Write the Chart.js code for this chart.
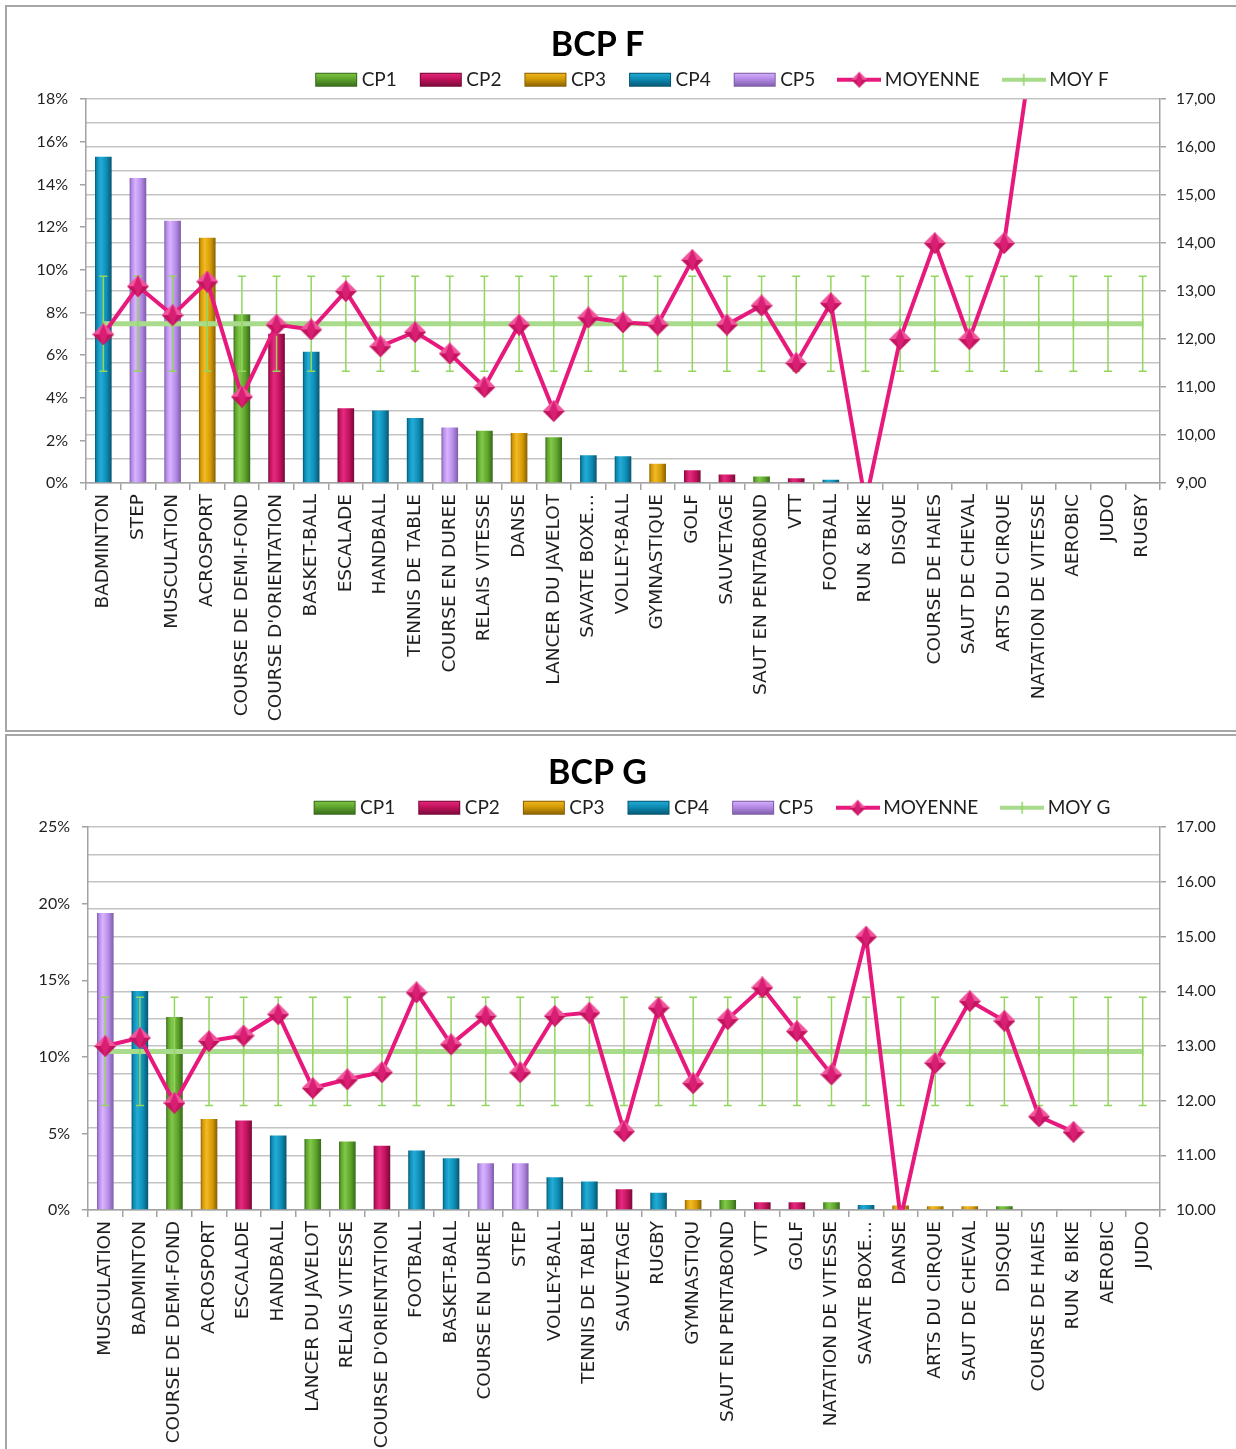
<!DOCTYPE html>
<html>
<head>
<meta charset="utf-8">
<title>BCP F / BCP G</title>
<script src="https://cdn.jsdelivr.net/npm/chart.js@4.4.1/dist/chart.umd.min.js"></script>
<style>
  html, body { margin: 0; padding: 0; background: #fff; overflow: hidden; }
  .panel { position: absolute; left: 5px; width: 1240px; border: 2px solid #a6a6a6; background: #fff; }
  #panelF { top: 5px; height: 723px; }
  #panelG { top: 734px; height: 720px; }
  .box { position: absolute; left: 0; top: 0; width: 1229px; }
  #panelF .box { height: 723px; }
  #panelG .box { height: 713px; }
</style>
</head>
<body>
<div class="panel" id="panelF"><div class="box"><canvas id="bcpF"></canvas></div></div>
<div class="panel" id="panelG"><div class="box"><canvas id="bcpG"></canvas></div></div>
<script>
//  data - BCP F
const catsF = ["BADMINTON", "STEP", "MUSCULATION", "ACROSPORT", "COURSE DE DEMI-FOND", "COURSE D'ORIENTATION",
    "BASKET-BALL", "ESCALADE", "HANDBALL", "TENNIS DE TABLE", "COURSE EN DUREE", "RELAIS VITESSE", "DANSE",
    "LANCER DU JAVELOT", "SAVATE BOXE…", "VOLLEY-BALL", "GYMNASTIQUE", "GOLF", "SAUVETAGE", "SAUT EN PENTABOND",
    "VTT", "FOOTBALL", "RUN & BIKE", "DISQUE", "COURSE DE HAIES", "SAUT DE CHEVAL", "ARTS DU CIRQUE",
    "NATATION DE VITESSE", "AEROBIC", "JUDO", "RUGBY"];
const cpF = [4, 5, 5, 3, 1, 2, 4, 2, 4, 4, 5, 1, 3, 1, 4, 4, 3, 2, 2, 1, 2, 4, 1, 1, 1, 3, 3, 1, 5, 4, 4];
const pctF = [15.3, 14.3, 12.3, 11.5, 7.9, 7.0, 6.15, 3.5, 3.4, 3.05, 2.6, 2.45, 2.35, 2.15, 1.3, 1.25,
    0.9, 0.6, 0.4, 0.3, 0.22, 0.15, 0, 0, 0, 0, 0, 0, 0, 0, 0];
const moyenneF = [12.1, 13.1, 12.5, 13.2, 10.8, 12.3, 12.2, 13.0, 11.85, 12.15, 11.7, 11.0, 12.3, 10.5, 12.45,
    12.35, 12.3, 13.65, 12.3, 12.7, 11.5, 12.75, 8.6, 12.0, 14.0, 12.0, 14.0, 19.0, null, null, null];
const MOY_F = 12.32;
const ERR_F = 0.99;

//  data - BCP G
const catsG = ["MUSCULATION", "BADMINTON", "COURSE DE DEMI-FOND", "ACROSPORT", "ESCALADE", "HANDBALL",
    "LANCER DU JAVELOT", "RELAIS VITESSE", "COURSE D'ORIENTATION", "FOOTBALL", "BASKET-BALL", "COURSE EN DUREE",
    "STEP", "VOLLEY-BALL", "TENNIS DE TABLE", "SAUVETAGE", "RUGBY", "GYMNASTIQU", "SAUT EN PENTABOND", "VTT",
    "GOLF", "NATATION DE VITESSE", "SAVATE BOXE…", "DANSE", "ARTS DU CIRQUE", "SAUT DE CHEVAL", "DISQUE",
    "COURSE DE HAIES", "RUN & BIKE", "AEROBIC", "JUDO"];
const cpG = [5, 4, 1, 3, 2, 4, 1, 1, 2, 4, 4, 5, 5, 4, 4, 2, 4, 3, 1, 2, 2, 1, 4, 3, 3, 3, 1, 1, 1, 5, 4];
const pctG = [19.4, 14.3, 12.6, 5.95, 5.85, 4.87, 4.63, 4.47, 4.19, 3.88, 3.38, 3.06, 3.06, 2.14, 1.86, 1.35,
    1.13, 0.65, 0.65, 0.5, 0.5, 0.5, 0.33, 0.3, 0.25, 0.25, 0.25, 0, 0, 0, 0];
const moyenneG = [13.0, 13.15, 11.96, 13.09, 13.19, 13.58, 12.23, 12.39, 12.52, 13.98, 13.03, 13.55, 12.52,
    13.55, 13.61, 11.44, 13.7, 12.32, 13.49, 14.07, 13.27, 12.48, 15.0, 9.85, 12.69, 13.82, 13.46, 11.71, 11.43,
    null, null];
const MOY_G = 12.9;
const ERR_G = 0.99;

const cpNames = ["CP1", "CP2", "CP3", "CP4", "CP5"];

//  colours
const cpColors = [
    { base: "#5ea42c", light: "#82c84a", dark: "#36681a" },
    { base: "#c2125c", light: "#e42a80", dark: "#760a38" },
    { base: "#d49a06", light: "#f3ba26", dark: "#875f02" },
    { base: "#0d8cb4", light: "#23acd6", dark: "#075570" },
    { base: "#b58ae6", light: "#d8b4ff", dark: "#7c5ca6" },
];
const PINK = "#e8197c";
const LIGHT_GREEN = "#a8dc8c";
const ERR_GREEN = "#92d65e";
const GRID = "#c3c3c3";
const AXIS = "#a2a2a2";

Chart.defaults.font.family = "Lato";
Chart.defaults.color = "#1f1f1f";

// 3d-ish bar fill, gradient across each bar
function barFill(c) {
    return function (ctx) {
        const chart = ctx.chart;
        const x = chart.scales.x;
        if (ctx.type !== "data" || !x || !x.ticks || !x.ticks.length) return c.base;
        const cx = x.getPixelForValue(ctx.dataIndex);
        const w = (x.width / x.ticks.length) * 0.48;
        const g = chart.ctx.createLinearGradient(cx - w / 2, 0, cx + w / 2, 0);
        g.addColorStop(0, c.dark);
        g.addColorStop(0.12, c.base);
        g.addColorStop(0.35, c.light);
        g.addColorStop(0.7, c.base);
        g.addColorStop(1, c.dark);
        return g;
    };
}

// shaded diamond marker for MOYENNE
function diamond(size) {
    const cv = document.createElement("canvas");
    cv.width = size;
    cv.height = size;
    const g = cv.getContext("2d");
    const h = size / 2;
    g.fillStyle = "#f0559c";
    g.beginPath(); g.moveTo(h, 0); g.lineTo(size, h); g.lineTo(0, h); g.closePath(); g.fill();
    g.fillStyle = "#c4145f";
    g.beginPath(); g.moveTo(0, h); g.lineTo(size, h); g.lineTo(h, size); g.closePath(); g.fill();
    g.fillStyle = "#d91f74";
    g.beginPath(); g.moveTo(h, 0); g.lineTo(h + size * 0.2, h); g.lineTo(h, size); g.lineTo(h - size * 0.2, h); g.closePath(); g.fill();
    return cv;
}
const diamondBig = diamond(22);
const diamondSmall = diamond(16);

// legend swatches
function swatch(kind, c) {
    const cv = document.createElement("canvas");
    cv.width = 44;
    cv.height = 18;
    const g = cv.getContext("2d");
    if (kind === "bar") {
        const gr = g.createLinearGradient(0, 2, 0, 16);
        gr.addColorStop(0, c.light);
        gr.addColorStop(0.45, c.base);
        gr.addColorStop(1, c.dark);
        g.fillStyle = gr;
        g.fillRect(1, 2, 42, 14);
        g.strokeStyle = c.dark;
        g.lineWidth = 1;
        g.strokeRect(1.5, 2.5, 41, 13);
    } else if (kind === "marker") {
        g.strokeStyle = PINK;
        g.lineWidth = 4;
        g.beginPath(); g.moveTo(0, 9); g.lineTo(44, 9); g.stroke();
        g.drawImage(diamondSmall, 14, 1);
    } else {
        g.strokeStyle = LIGHT_GREEN;
        g.lineWidth = 4;
        g.beginPath(); g.moveTo(0, 9); g.lineTo(44, 9); g.stroke();
        g.strokeStyle = ERR_GREEN;
        g.lineWidth = 1.5;
        g.beginPath(); g.moveTo(22, 3); g.lineTo(22, 15); g.stroke();
    }
    return cv;
}

// error bars around the average line
const errorBars = {
    id: "errorBars",
    beforeDatasetDraw(chart, args) {
        const ds = chart.data.datasets[args.index];
        if (ds.errorBar === undefined) return;
        const x = chart.scales.x;
        const y = chart.scales[ds.yAxisID];
        const ctx = chart.ctx;
        ctx.save();
        ctx.strokeStyle = ERR_GREEN;
        ctx.lineWidth = 1.5;
        ds.data.forEach((v, i) => {
            const px = x.getPixelForValue(i);
            const top = y.getPixelForValue(v + ds.errorBar);
            const bot = y.getPixelForValue(v - ds.errorBar);
            ctx.beginPath();
            ctx.moveTo(px, top); ctx.lineTo(px, bot);
            ctx.moveTo(px - 4, top); ctx.lineTo(px + 4, top);
            ctx.moveTo(px - 4, bot); ctx.lineTo(px + 4, bot);
            ctx.stroke();
        });
        ctx.restore();
    },
};

// nudge title / legend to where the reference has them
const boxShift = {
    id: "boxShift",
    afterLayout(chart, args, opts) {
        if (opts.legend) {
            chart.legend.left += opts.legend[0];
            chart.legend.right += opts.legend[0];
            chart.legend.top += opts.legend[1];
        }
        if (opts.title) {
            chart.titleBlock.left += opts.title[0];
            chart.titleBlock.right += opts.title[0];
        }
    },
};

function makeChart(id, o) {
    const datasets = [];
    cpNames.forEach((name, k) => {
        datasets.push({
            type: "bar",
            label: name,
            data: o.pct.map((v, i) => (o.cp[i] === k + 1 ? v : null)),
            backgroundColor: barFill(cpColors[k]),
            borderWidth: 0,
            grouped: false,
            categoryPercentage: 1,
            barPercentage: 0.48,
            yAxisID: "y",
            order: 2,
        });
    });
    datasets.push({
        type: "line",
        label: "MOYENNE",
        data: o.moyenne,
        borderColor: PINK,
        borderWidth: 4,
        pointStyle: diamondBig,
        pointRadius: 11,
        pointHoverRadius: 11,
        tension: 0,
        spanGaps: false,
        clip: 0,
        yAxisID: "y1",
        order: 0,
    });
    datasets.push({
        type: "line",
        label: o.moyLabel,
        data: o.cats.map(() => o.moy),
        errorBar: o.err,
        borderColor: LIGHT_GREEN,
        borderWidth: 5,
        pointStyle: "line",
        pointRotation: 90,
        pointRadius: 5,
        pointBorderColor: ERR_GREEN,
        pointBorderWidth: 1.5,
        yAxisID: "y1",
        order: 1,
    });

    return new Chart(document.getElementById(id), {
        data: { labels: o.cats, datasets: datasets },
        plugins: [errorBars, boxShift],
        options: {
            responsive: true,
            maintainAspectRatio: false,
            animation: false,
            layout: { padding: 0 },
            plugins: {
                title: {
                    display: true,
                    text: o.title,
                    color: "#000",
                    font: { size: 34, weight: "bold", lineHeight: 0.8 },
                    padding: { top: o.titleTop, bottom: 0 },
                },
                legend: {
                    display: true,
                    position: "top",
                    maxHeight: 41,
                    labels: {
                        usePointStyle: true,
                        pointStyleWidth: 32,
                        padding: 28,
                        color: "#1f1f1f",
                        font: { size: 19 },
                        generateLabels(chart) {
                            return chart.data.datasets.map((ds, i) => ({
                                text: ds.label,
                                datasetIndex: i,
                                hidden: false,
                                lineWidth: 0,
                                fontColor: "#1f1f1f",
                                pointStyle: i < 5 ? swatch("bar", cpColors[i]) : swatch(i === 5 ? "marker" : "moy"),
                            }));
                        },
                    },
                },
                boxShift: { legend: [93, -16], title: [-24, 0] },
                tooltip: { enabled: false },
            },
            scales: {
                x: {
                    type: "category",
                    offset: true,
                    grid: { drawOnChartArea: false, offset: true, tickLength: 7, color: AXIS, lineWidth: 1.5 },
                    border: { color: AXIS, width: 1.5 },
                    ticks: {
                        autoSkip: false,
                        minRotation: 90,
                        maxRotation: 90,
                        padding: 4,
                        color: "#1f1f1f",
                        font: { family: "DejaVu Sans", size: 18.5 },
                    },
                    afterFit(scale) { scale.height = o.xHeight; },
                },
                y: {
                    position: "left",
                    min: 0,
                    max: o.pctMax,
                    grid: { drawOnChartArea: false, tickLength: 6, color: AXIS, lineWidth: 1.5 },
                    border: { color: AXIS, width: 1.5 },
                    ticks: {
                        stepSize: o.pctStep,
                        padding: 12,
                        font: { size: 16 },
                        callback: (v) => (v % o.pctLabelEvery === 0 ? v + "%" : ""),
                    },
                    afterFit(scale) { scale.width = o.leftWidth; },
                },
                y1: {
                    position: "right",
                    min: o.moyMin,
                    max: 17,
                    grid: {
                        drawOnChartArea: true,
                        color: GRID,
                        lineWidth: 1.5,
                        tickLength: 6,
                        tickColor: (c) => (Number.isInteger(c.tick.value) ? AXIS : "rgba(0,0,0,0)"),
                    },
                    border: { color: AXIS, width: 1.5 },
                    ticks: {
                        stepSize: 0.5,
                        padding: 10,
                        font: { size: 15.5 },
                        callback: (v) => (Number.isInteger(v) ? v.toFixed(2).replace(".", o.decimal) : ""),
                    },
                    afterFit(scale) { scale.width = 76; },
                },
            },
        },
    });
}

makeChart("bcpF", {
    title: "BCP F", titleTop: 24, cats: catsF, cp: cpF, pct: pctF, moyenne: moyenneF,
    moy: MOY_F, err: ERR_F, moyLabel: "MOY F", moyMin: 9, decimal: ",",
    pctMax: 18, pctStep: 1, pctLabelEvery: 2, leftWidth: 79, xHeight: 247,
});

makeChart("bcpG", {
    title: "BCP G", titleTop: 23, cats: catsG, cp: cpG, pct: pctG, moyenne: moyenneG,
    moy: MOY_G, err: ERR_G, moyLabel: "MOY G", moyMin: 10, decimal: ".",
    pctMax: 25, pctStep: 5, pctLabelEvery: 5, leftWidth: 81, xHeight: 239,
});
</script>
</body>
</html>
